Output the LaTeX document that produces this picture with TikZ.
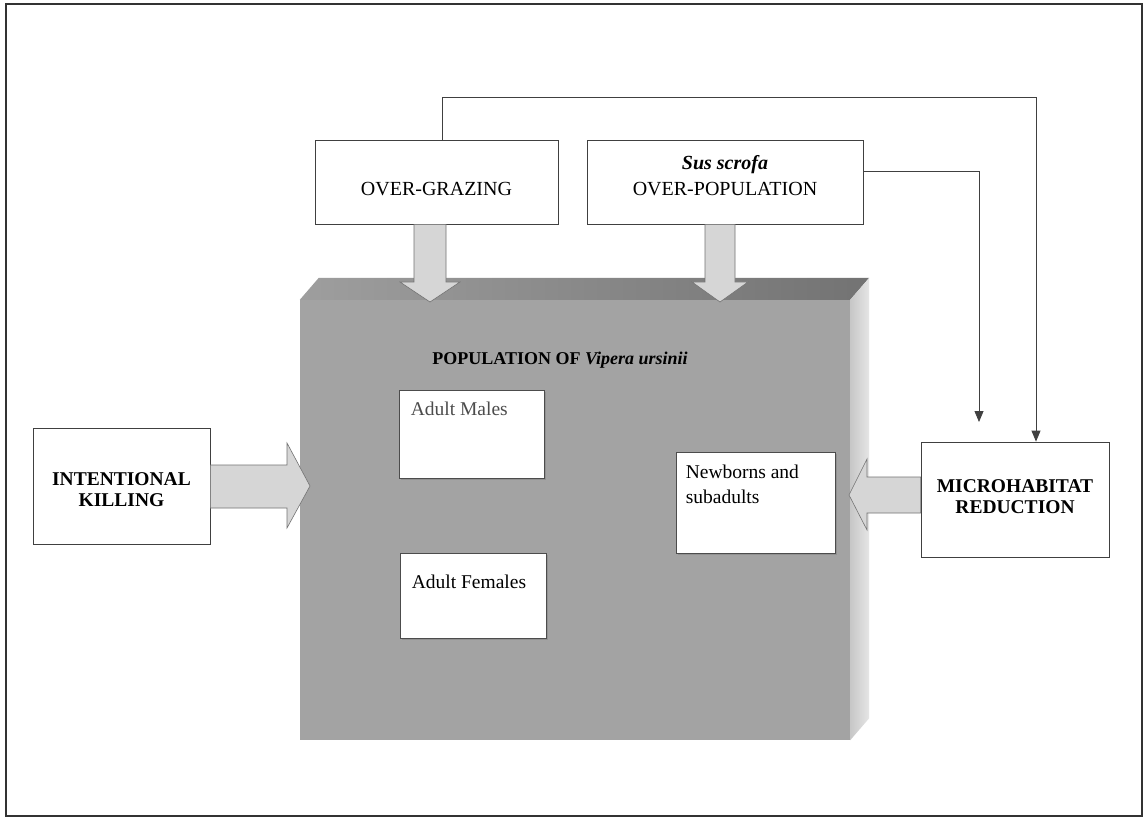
\documentclass[tikz,border=0pt]{standalone}
\usepackage{fontspec}
\setmainfont{Liberation Serif}
\usetikzlibrary{calc,arrows.meta,shadows}
\begin{document}
\begin{tikzpicture}[x=1pt,y=-1pt,
  box/.style={draw=black!75, line width=0.8pt, fill=white, inner sep=0pt},
  inbox/.style={draw=black!70, line width=0.8pt, fill=white, inner sep=0pt,
    drop shadow={shadow xshift=1.5pt, shadow yshift=-1.5pt, opacity=0.5}},
  conn/.style={draw=black!75, line width=0.8pt, -{Triangle[length=11pt,width=9pt]}},
  fat/.style={draw=black!55, line width=0.6pt, fill=black!16},
  big/.style={font=\fontsize{20}{26}\selectfont, align=center, inner sep=0pt},
  bigb/.style={font=\fontsize{19.5}{21}\selectfont\bfseries, align=center, inner sep=0pt},
  small/.style={font=\fontsize{19.5}{25}\selectfont, align=left, inner sep=0pt},
]
\useasboundingbox (0,0) rectangle (1148,818);
\fill[white] (0,0) rectangle (1148,818);
\draw[line width=1.6pt, black!80] (6,4) rectangle (1142,816);

% population block
\node[fill=black!36, minimum width=550pt, minimum height=440pt, inner sep=0pt] (pop) at (575,520) {};
\shade[left color=black!38, right color=black!55] (pop.north west) -- ++(19,-22) -- ([shift={(19,-22)}]pop.north east) -- (pop.north east) -- cycle;
\shade[left color=black!22, right color=black!10] (pop.north east) -- ++(19,-22) -- ([shift={(19,-22)}]pop.south east) -- (pop.south east) -- cycle;
\node[font=\fontsize{18}{20}\selectfont\bfseries] (title) at (560,360) {POPULATION OF \textit{Vipera ursinii}};

% inner boxes
\node[inbox, minimum width=145pt, minimum height=88pt] (males) at (471.5,434) {};
\node[small, anchor=north west, text=black!70] (malesT) at ([xshift=12pt,yshift=-12pt]males.north west) {Adult Males};
\node[inbox, minimum width=146pt, minimum height=85pt] (fem) at (473,595.5) {};
\node[small, anchor=north west] (femT) at ([xshift=12pt,yshift=-22pt]fem.north west) {Adult Females};
\node[inbox, minimum width=159pt, minimum height=101pt] (newb) at (755.5,502.5) {};
\node[small, anchor=north west] (newbT) at ([xshift=10pt,yshift=-13pt]newb.north west) {Newborns and\\subadults};

% outer boxes
\node[box, minimum width=243pt, minimum height=84pt] (graz) at (436.5,182) {};
\node[big] (grazT) at (436.5,189) {OVER-GRAZING};
\node[box, minimum width=276pt, minimum height=84pt] (sus) at (725,182) {};
\node[big] (susT) at (725,176) {\textbf{\textit{Sus scrofa}}\\OVER-POPULATION};
\node[box, minimum width=177pt, minimum height=116pt] (kill) at (121.5,486) {};
\node[bigb] (killT) at (121.5,490) {INTENTIONAL\\KILLING};
\node[box, minimum width=188pt, minimum height=115pt] (micro) at (1015,499.5) {};
\node[bigb] (microT) at (1015,497) {MICROHABITAT\\REDUCTION};

% fat arrows
\coordinate (tA) at (430,302);
\coordinate (tB) at (720,302);
\coordinate (tC) at (310,486);
\coordinate (tD) at (849,495);
\draw[fat] (graz.south -| 414,0) -- (414,282) -- (400,282) -- (tA) -- (460,282) -- (446,282) -- (graz.south -| 446,0) -- cycle;
\draw[fat] (sus.south -| 705,0) -- (705,282) -- (692,282) -- (tB) -- (748,282) -- (735,282) -- (sus.south -| 735,0) -- cycle;
\draw[fat] (kill.east |- 0,465) -- (287,465) -- (287,443) -- (tC) -- (287,528) -- (287,508) -- (kill.east |- 0,508) -- cycle;
\draw[fat] (micro.west |- 0,477) -- (867,477) -- (867,459) -- (tD) -- (867,530) -- (867,513) -- (micro.west |- 0,513) -- cycle;

% connectors
\coordinate (j1) at (442,97);
\coordinate (j2) at (1036,97);
\coordinate (j3) at (979,171);
\coordinate (j4) at (979,422);
\draw[conn] (graz.north -| j1) -- (j1) -- (j2) -- (micro.north -| j2);
\draw[conn] (sus.east |- j3) -- (j3) -- (j4);
\end{tikzpicture}
\end{document}
